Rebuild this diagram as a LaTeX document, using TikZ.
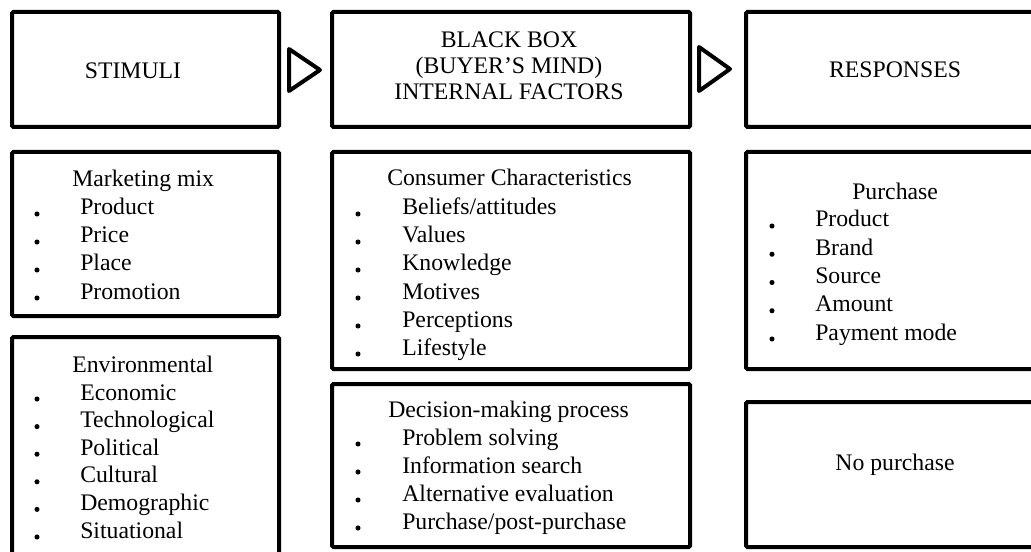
\documentclass[tikz,border=0pt]{standalone}
\usepackage{fontspec}
\setmainfont{Liberation Serif}
\usetikzlibrary{calc}

\tikzset{
  box/.style={draw, line width=3pt, rounded corners=1pt, anchor=north west, inner sep=0pt},
  boxsize/.style 2 args={minimum width=#1*0.75pt, minimum height=#2*0.75pt},
  lbl/.style={inner sep=0pt, anchor=base, font=\fontsize{17.8}{21}\selectfont},
  item/.style={lbl, anchor=base west},
  bul/.style={circle, fill, inner sep=0pt, minimum size=3.8pt},
  tip/.style={line width=3pt, line join=round}
}

\begin{document}
\begin{tikzpicture}[x=0.75pt,y=-0.75pt]
  \useasboundingbox (0,0) rectangle (1031,552);
  % top row
  \node[box, boxsize={267}{115}] (stim) at (10,10) {};
  \node[box, boxsize={358}{115}] (bbox) at (330,10) {};
  \node[box, boxsize={330}{115}] (resp) at (744,10) {};
  \node[lbl] (stimtxt) at (133,79) {STIMULI};
  \node[lbl] (bbox1) at (509,48) {BLACK BOX};
  \node[lbl] (bbox2) at (509,74) {(BUYER’S MIND)};
  \node[lbl] (bbox3) at (509,100) {INTERNAL FACTORS};
  \node[lbl] (resptxt) at (895,78) {RESPONSES};
  \draw[tip] (289,49) -- (320,70) -- (289,91) -- cycle;
  \draw[tip] (699,47) -- (730,69) -- (699,91) -- cycle;
  % stimuli
  \node[box, boxsize={267}{164}] (mix) at (10,150) {};
  \node[item] (mixhead) at (72,187) {Marketing mix};
  \foreach \t [count=\i from 0] in {Product,Price,Place,Promotion}{
    \node[item] (mix-\i) at (80,215+28*\i) {\t};
    \node[bul] (mixb-\i) at (37,214+28*\i) {};
  }
  \node[box, boxsize={267}{250}] (env) at (10,335) {};
  \node[item] (envhead) at (72,372) {Environmental};
  \foreach \t [count=\i from 0] in {Economic,Technological,Political,Cultural,Demographic,Situational}{
    \node[item] (env-\i) at (80,400+27.6*\i) {\t};
    \node[bul] (envb-\i) at (37,399+27.6*\i) {};
  }
  % black box
  \node[box, boxsize={358}{217}] (cons) at (330,150) {};
  \node[item] (conshead) at (387,186) {Consumer Characteristics};
  \foreach \t [count=\i from 0] in {Beliefs/attitudes,Values,Knowledge,Motives,Perceptions,Lifestyle}{
    \node[item] (cons-\i) at (402,215+28*\i) {\t};
    \node[bul] (consb-\i) at (358,214+28*\i) {};
  }
  \node[box, boxsize={358}{163}] (dec) at (330,382) {};
  \node[item] (dechead) at (388,417) {Decision-making process};
  \foreach \t [count=\i from 0] in {Problem solving,Information search,Alternative evaluation,Purchase/post-purchase}{
    \node[item] (dec-\i) at (402,445+28*\i) {\t};
    \node[bul] (decb-\i) at (358,444+28*\i) {};
  }
  % responses
  \node[box, boxsize={330}{217}] (buy) at (744,150) {};
  \node[item] (buyhead) at (852,200) {Purchase};
  \foreach \t [count=\i from 0] in {Product,Brand,Source,Amount,Payment mode}{
    \node[item] (buy-\i) at (815,227+28.25*\i) {\t};
    \node[bul] (buyb-\i) at (772,226+28.25*\i) {};
  }
  \node[box, boxsize={330}{145}] (nobuy) at (744,400) {};
  \node[lbl] (nobuytxt) at (895,470) {No purchase};
\end{tikzpicture}
\end{document}
